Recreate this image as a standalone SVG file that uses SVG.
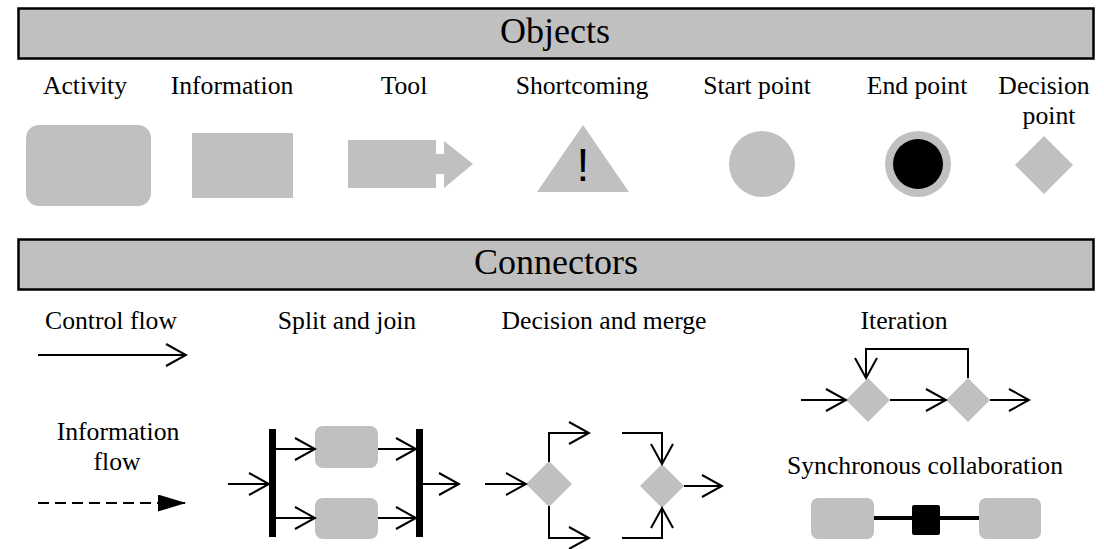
<svg xmlns="http://www.w3.org/2000/svg" width="1104" height="549" viewBox="0 0 1104 549">
  <style>
    .bar { fill: #c0c0c0; stroke: #000; stroke-width: 2.5; }
    .title { font-family: "Liberation Serif", "Times New Roman", serif; font-size: 36px; text-anchor: middle; fill: #000; }
    .lbl { font-family: "Liberation Serif", "Times New Roman", serif; font-size: 25.7px; text-anchor: middle; fill: #000; }
    .shape { fill: #c0c0c0; stroke: none; }
    .flow { fill: none; stroke: #000; stroke-width: 2; marker-end: url(#open); }
  </style>
  <defs>
    <marker id="open" markerUnits="userSpaceOnUse" markerWidth="24" markerHeight="26" viewBox="-2 -2 24 26" refX="20" refY="11" orient="auto">
      <path d="M0,0 L20,11 L0,22" fill="none" stroke="#000" stroke-width="2"/>
    </marker>
    <marker id="solid" markerUnits="userSpaceOnUse" markerWidth="28" markerHeight="18" viewBox="0 0 28 18" refX="28" refY="8.5" orient="auto">
      <path d="M0,0 L28,8.5 L0,17 Z" fill="#000"/>
    </marker>
  </defs>

  <!-- Section headers -->
  <g id="header-objects">
    <rect class="bar" x="18.5" y="8.5" width="1075" height="50"/>
    <text class="title" x="555" y="43">Objects</text>
  </g>
  <g id="header-connectors">
    <rect class="bar" x="18.5" y="239.5" width="1075" height="50"/>
    <text class="title" x="556" y="274">Connectors</text>
  </g>

  <!-- Object legend -->
  <g id="activity">
    <text class="lbl" x="85" y="94">Activity</text>
    <rect class="shape" x="26" y="125" width="125" height="81" rx="13"/>
  </g>
  <g id="information">
    <text class="lbl" x="232" y="94">Information</text>
    <rect class="shape" x="192" y="133" width="101" height="65"/>
  </g>
  <g id="tool">
    <text class="lbl" x="404" y="94">Tool</text>
    <polygon class="shape" points="348,140 436,140 436,154 444,154 444,141 473,164 444,188 444,174 436,174 436,188 348,188"/>
  </g>
  <g id="shortcoming">
    <text class="lbl" x="582" y="94">Shortcoming</text>
    <polygon class="shape" points="583,125 629,192 537,192"/>
    <text x="583" y="181" font-family="'Liberation Sans', Arial, sans-serif" font-size="46" text-anchor="middle" fill="#000">!</text>
  </g>
  <g id="start-point">
    <text class="lbl" x="757" y="94">Start point</text>
    <circle class="shape" cx="762" cy="164" r="33"/>
  </g>
  <g id="end-point">
    <text class="lbl" x="917" y="94">End point</text>
    <circle class="shape" cx="918" cy="164" r="33"/>
    <circle cx="918" cy="164" r="25" fill="#000"/>
  </g>
  <g id="decision-point">
    <text class="lbl" x="1044" y="94">Decision</text>
    <text class="lbl" x="1049" y="124">point</text>
    <polygon class="shape" points="1044,136 1073,165 1044,194 1015,165"/>
  </g>

  <!-- Connector legend: labels and shapes -->
  <g id="control-flow">
    <text class="lbl" x="111" y="329">Control flow</text>
  </g>
  <g id="information-flow">
    <text class="lbl" x="118" y="440">Information</text>
    <text class="lbl" x="117" y="470">flow</text>
  </g>
  <g id="split-join">
    <text class="lbl" x="347" y="329">Split and join</text>
    <rect x="269" y="429" width="7" height="108" fill="#000"/>
    <rect x="416" y="429" width="7" height="108" fill="#000"/>
    <rect class="shape" x="315" y="426" width="63" height="42" rx="8"/>
    <rect class="shape" x="315" y="498" width="63" height="41" rx="8"/>
  </g>
  <g id="decision-merge">
    <text class="lbl" x="604" y="329">Decision and merge</text>
    <polygon class="shape" points="549,461 572,484 549,507 526,484"/>
    <polygon class="shape" points="662,464 684,486 662,508 640,486"/>
  </g>
  <g id="iteration">
    <text class="lbl" x="904" y="329">Iteration</text>
    <polygon class="shape" points="868,378 890,400 868,422 846,400"/>
    <polygon class="shape" points="968,378 990,400 968,422 946,400"/>
  </g>
  <g id="sync-collaboration">
    <text class="lbl" x="925" y="474">Synchronous collaboration</text>
    <rect class="shape" x="811" y="498" width="63" height="41" rx="7"/>
    <rect class="shape" x="979" y="498" width="62" height="41" rx="7"/>
    <rect x="912" y="505" width="28" height="30" rx="2" fill="#000"/>
  </g>

  <!-- Connectors -->
  <g id="connectors">
    <!-- control flow sample -->
    <line class="flow" x1="38" y1="355" x2="186" y2="355"/>
    <!-- information flow sample -->
    <line x1="38" y1="503" x2="186" y2="503" stroke="#000" stroke-width="2" stroke-dasharray="11 6" marker-end="url(#solid)"/>

    <!-- split and join -->
    <line class="flow" x1="228" y1="484" x2="269" y2="484"/>
    <line class="flow" x1="276" y1="449" x2="315" y2="449"/>
    <line class="flow" x1="276" y1="518" x2="315" y2="518"/>
    <line class="flow" x1="378" y1="449" x2="416" y2="449"/>
    <line class="flow" x1="378" y1="518" x2="416" y2="518"/>
    <line class="flow" x1="423" y1="484" x2="459" y2="484"/>

    <!-- decision and merge -->
    <line class="flow" x1="485" y1="484" x2="526" y2="484"/>
    <path class="flow" d="M549,462 V433 H589"/>
    <path class="flow" d="M549,506 V538 H589"/>
    <path class="flow" d="M622,433 H662 V464"/>
    <path class="flow" d="M622,538 H662 V508"/>
    <line class="flow" x1="684" y1="486" x2="722" y2="486"/>

    <!-- iteration -->
    <line class="flow" x1="801" y1="400" x2="846" y2="400"/>
    <line class="flow" x1="890" y1="400" x2="946" y2="400"/>
    <line class="flow" x1="990" y1="400" x2="1029" y2="400"/>
    <path class="flow" d="M968,378 V349 H866 V378"/>

    <!-- synchronous collaboration -->
    <line x1="874" y1="518" x2="979" y2="518" stroke="#000" stroke-width="4"/>
  </g>
</svg>
